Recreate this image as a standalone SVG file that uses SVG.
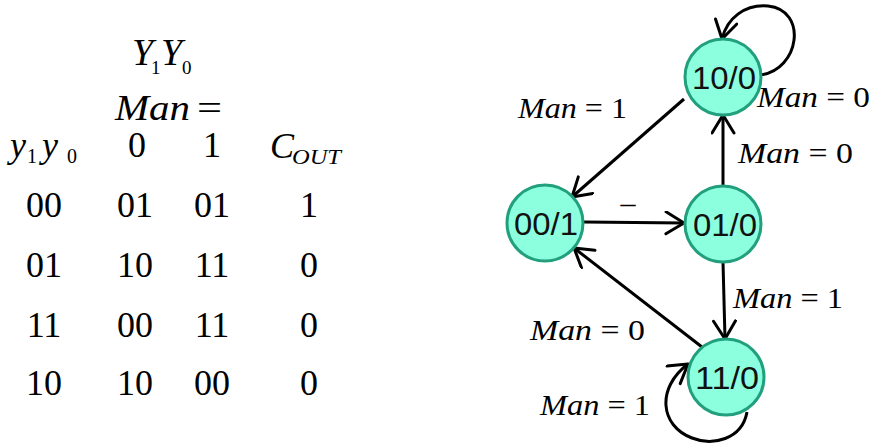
<svg xmlns="http://www.w3.org/2000/svg" width="877" height="443" viewBox="0 0 877 443">
<style>
.i{font-style:italic}
.node circle{fill:#8cffdf;stroke:#22a07e;stroke-width:3}
.edge{fill:none;stroke:#000;stroke-width:3;marker-end:url(#arr)}
</style>
<defs>
<marker id="arr" markerUnits="userSpaceOnUse" markerWidth="30" markerHeight="30" refX="22" refY="12" orient="auto">
<path d="M4,1 L22,12 L4,23" fill="none" stroke="#000" stroke-width="3" stroke-linecap="round" stroke-linejoin="round"/>
</marker>
</defs>
<rect width="877" height="443" fill="#fff"/>
<g id="table" font-size="36" fill="#000">
<text font-family="Liberation Serif" class="i" x="132" y="65" font-size="38">Y</text>
<text font-family="Liberation Serif" x="151" y="74" font-size="19">1</text>
<text font-family="Liberation Serif" class="i" x="161" y="65" font-size="38">Y</text>
<text font-family="Liberation Serif" x="182" y="74" font-size="19">0</text>
<text font-family="Liberation Serif" class="i" x="115" y="120" textLength="75" lengthAdjust="spacingAndGlyphs">Man</text>
<text font-family="Liberation Serif" x="197" y="120" textLength="25" lengthAdjust="spacingAndGlyphs">=</text>
<text font-family="Liberation Serif" class="i" x="10" y="157">y</text>
<text font-family="Liberation Serif" x="27" y="163" font-size="20">1</text>
<text font-family="Liberation Serif" class="i" x="42" y="157">y</text>
<text font-family="Liberation Serif" x="67" y="163" font-size="20">0</text>
<text font-family="Liberation Serif" x="137" y="157" text-anchor="middle">0</text>
<text font-family="Liberation Serif" x="212" y="157" text-anchor="middle">1</text>
<text font-family="Liberation Serif" class="i" x="270" y="158">C</text>
<text font-family="Liberation Serif" class="i" x="292" y="164" font-size="22" textLength="49" lengthAdjust="spacingAndGlyphs">OUT</text>
<g text-anchor="middle">
<text font-family="Liberation Serif" x="44" y="217">00</text><text font-family="Liberation Serif" x="135" y="217">01</text><text font-family="Liberation Serif" x="212" y="217">01</text><text font-family="Liberation Serif" x="309" y="217">1</text>
<text font-family="Liberation Serif" x="44" y="277">01</text><text font-family="Liberation Serif" x="135" y="277">10</text><text font-family="Liberation Serif" x="212" y="277">11</text><text font-family="Liberation Serif" x="309" y="277">0</text>
<text font-family="Liberation Serif" x="44" y="337">11</text><text font-family="Liberation Serif" x="135" y="337">00</text><text font-family="Liberation Serif" x="212" y="337">11</text><text font-family="Liberation Serif" x="309" y="337">0</text>
<text font-family="Liberation Serif" x="44" y="395">10</text><text font-family="Liberation Serif" x="135" y="395">10</text><text font-family="Liberation Serif" x="212" y="395">00</text><text font-family="Liberation Serif" x="309" y="395">0</text>
</g>
</g>
<g id="connectors">
<path class="edge" d="M684 99 L572 197"/>
<path class="edge" d="M723 186 L723 115"/>
<path class="edge" d="M584 222 L684 223"/>
<path class="edge" d="M723 262 L725 339"/>
<path class="edge" d="M702 347 L574 248"/>
<path class="edge" d="M760 75 C800 70 808 10 768 6 C745 4 727 18 722 39"/>
<path class="edge" d="M747 412 C742 440 712 446 692 438 C660 426 656 388 688 364"/>
</g>
<g id="labels" font-size="30" fill="#000">
<text font-family="Liberation Serif" x="518" y="118" textLength="109" lengthAdjust="spacingAndGlyphs"><tspan class="i">Man</tspan> = 1</text>
<text font-family="Liberation Serif" x="757" y="107" textLength="113" lengthAdjust="spacingAndGlyphs"><tspan class="i">Man</tspan> = 0</text>
<text font-family="Liberation Serif" x="738" y="163" textLength="115" lengthAdjust="spacingAndGlyphs"><tspan class="i">Man</tspan> = 0</text>
<text font-family="Liberation Serif" x="733" y="308" textLength="110" lengthAdjust="spacingAndGlyphs"><tspan class="i">Man</tspan> = 1</text>
<text font-family="Liberation Serif" x="530" y="340" textLength="115" lengthAdjust="spacingAndGlyphs"><tspan class="i">Man</tspan> = 0</text>
<text font-family="Liberation Serif" x="540" y="415" textLength="110" lengthAdjust="spacingAndGlyphs"><tspan class="i">Man</tspan> = 1</text>
<text font-family="Liberation Serif" x="628" y="213" text-anchor="middle">–</text>
</g>
<g id="n10" class="node"><circle cx="723" cy="77" r="38"/><text font-family="Liberation Sans" font-size="32" text-anchor="middle" fill="#111" x="724" y="89" textLength="64" lengthAdjust="spacingAndGlyphs">10/0</text></g>
<g id="n00" class="node"><circle cx="545" cy="223" r="38"/><text font-family="Liberation Sans" font-size="32" text-anchor="middle" fill="#111" x="546" y="235" textLength="64" lengthAdjust="spacingAndGlyphs">00/1</text></g>
<g id="n01" class="node"><circle cx="723" cy="224" r="38"/><text font-family="Liberation Sans" font-size="32" text-anchor="middle" fill="#111" x="725" y="236" textLength="64" lengthAdjust="spacingAndGlyphs">01/0</text></g>
<g id="n11" class="node"><circle cx="726" cy="377" r="38"/><text font-family="Liberation Sans" font-size="32" text-anchor="middle" fill="#111" x="727" y="389" textLength="64" lengthAdjust="spacingAndGlyphs">11/0</text></g>
</svg>
